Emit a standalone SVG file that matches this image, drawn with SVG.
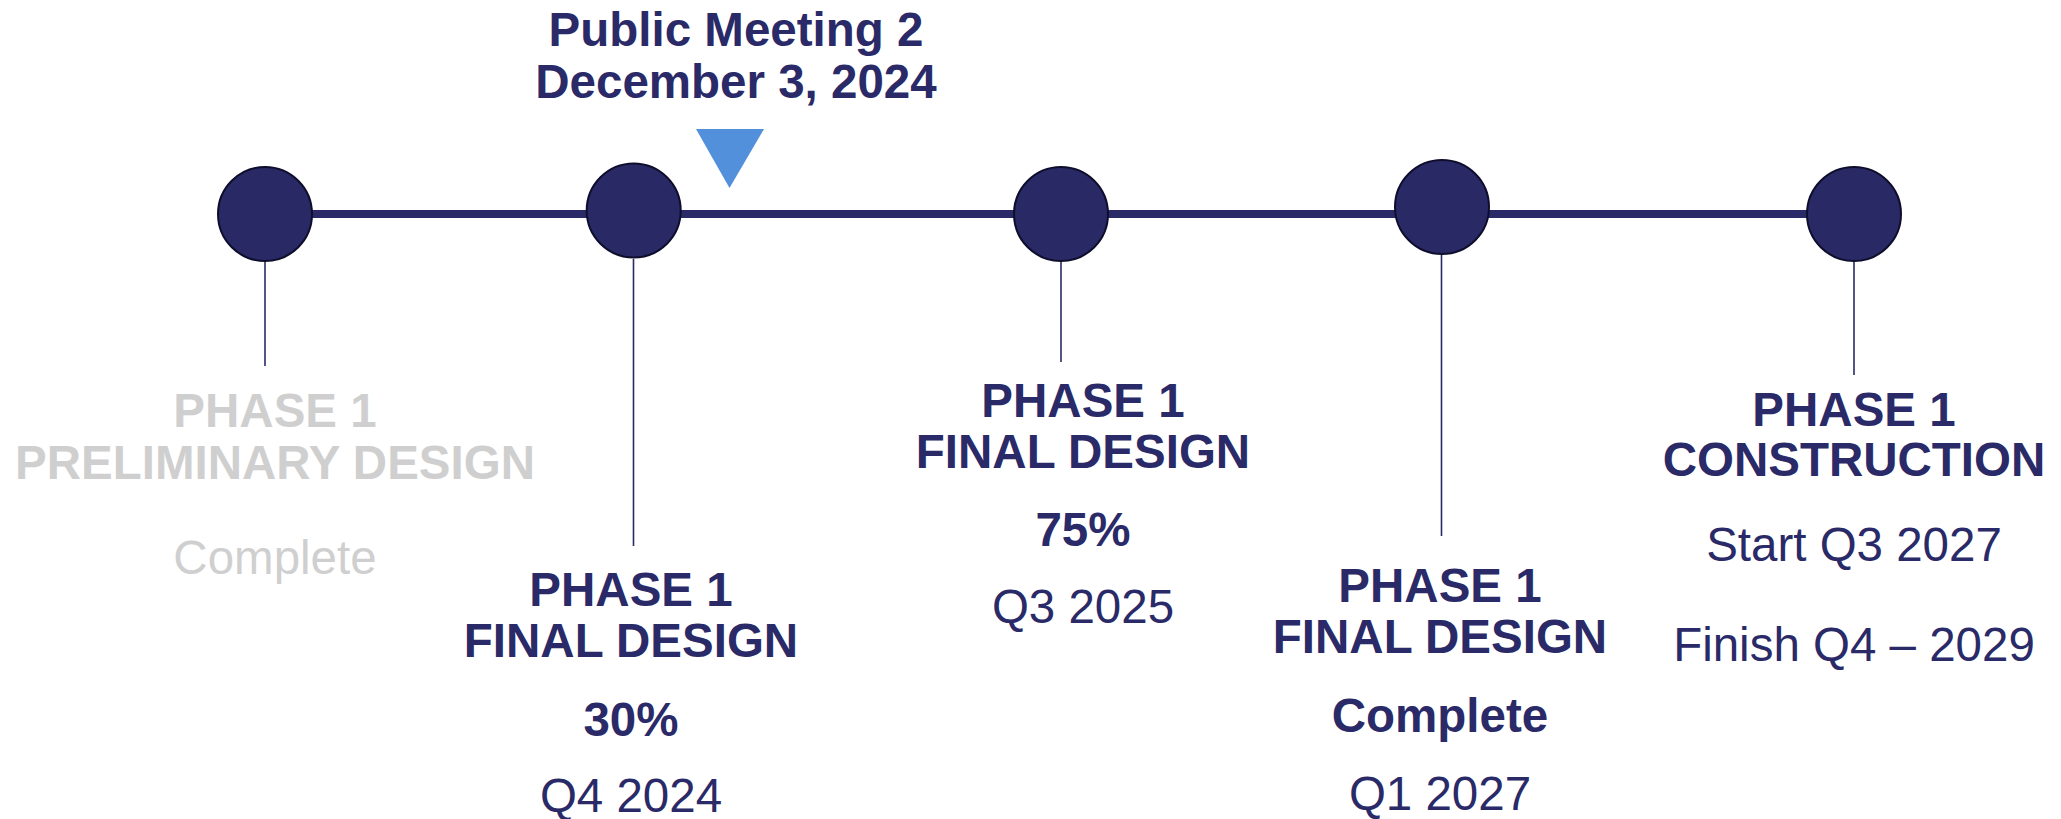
<svg xmlns="http://www.w3.org/2000/svg" width="2061" height="819" viewBox="0 0 2061 819">
<style>
text{font-family:"Liberation Sans",Arial,sans-serif;font-size:47.5px;text-anchor:middle;fill:#2A2A68}
.b{font-weight:bold}
.g{fill:#D0CFD0}
.dot{fill:#292966;stroke:#0E0E2C;stroke-width:2}
.tick{stroke:#2A2A68;stroke-width:1.6}
.main{stroke:#2A2A68;stroke-width:8}
</style>
<rect width="2061" height="819" fill="#fff"/>
<g id="connectors">
<line class="main" x1="265" y1="214" x2="1854" y2="214"/>
<line class="tick" x1="265" y1="262" x2="265" y2="366"/>
<line class="tick" x1="633.5" y1="259" x2="633.5" y2="546"/>
<line class="tick" x1="1061" y1="262" x2="1061" y2="362"/>
<line class="tick" x1="1441.5" y1="255" x2="1441.5" y2="536"/>
<line class="tick" x1="1854" y1="262" x2="1854" y2="375"/>
</g>
<g id="meeting">
<polygon points="696,129 764,129 729.5,188" fill="#5290DB"/>
<text class="b" x="736" y="46">Public Meeting 2</text>
<text class="b" x="736" y="98">December 3, 2024</text>
</g>
<g id="node1">
<circle class="dot" cx="265" cy="214" r="47"/>
<text class="b g" x="275" y="427">PHASE 1</text>
<text class="b g" x="275" y="479">PRELIMINARY DESIGN</text>
<text class="g" x="275" y="574">Complete</text>
</g>
<g id="node2">
<circle class="dot" cx="633.7" cy="210.5" r="47"/>
<text class="b" x="631" y="606">PHASE 1</text>
<text class="b" x="631" y="657">FINAL DESIGN</text>
<text class="b" x="631" y="736">30%</text>
<text x="631" y="812">Q4 2024</text>
</g>
<g id="node3">
<circle class="dot" cx="1061" cy="214" r="47"/>
<text class="b" x="1083" y="417">PHASE 1</text>
<text class="b" x="1083" y="468">FINAL DESIGN</text>
<text class="b" x="1083" y="546">75%</text>
<text x="1083" y="623">Q3 2025</text>
</g>
<g id="node4">
<circle class="dot" cx="1442" cy="207" r="47"/>
<text class="b" x="1440" y="602">PHASE 1</text>
<text class="b" x="1440" y="653">FINAL DESIGN</text>
<text class="b" x="1440" y="732">Complete</text>
<text x="1440" y="810">Q1 2027</text>
</g>
<g id="node5">
<circle class="dot" cx="1854" cy="214" r="47"/>
<text class="b" x="1854" y="426">PHASE 1</text>
<text class="b" x="1854" y="476">CONSTRUCTION</text>
<text x="1854" y="561">Start Q3 2027</text>
<text x="1854" y="661">Finish Q4 – 2029</text>
</g>
</svg>
